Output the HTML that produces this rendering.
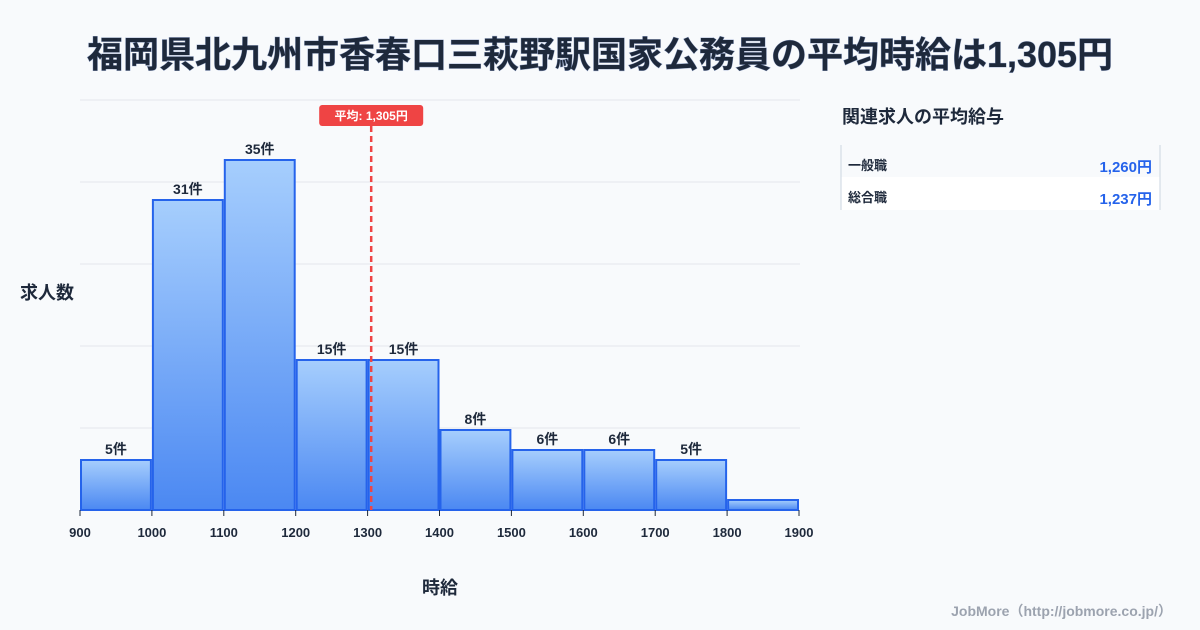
<!DOCTYPE html>
<html><head><meta charset="utf-8"><style>
body{margin:0;background:#f8fafc;font-family:"Liberation Sans","Noto Sans CJK JP",sans-serif;}
#wrap{position:relative;width:1200px;height:630px;overflow:hidden;background:#f8fafc;}
</style></head><body>
<div id="wrap">
<svg id="svg" width="1200" height="630" xmlns="http://www.w3.org/2000/svg">
<defs><linearGradient id="g" x1="0" y1="0" x2="0" y2="1"><stop offset="0" stop-color="#a6cefd"/><stop offset="1" stop-color="#4b88f2"/></linearGradient></defs>
<text x="600" y="67" text-anchor="middle" font-size="36" font-weight="bold" fill="#1e293b" stroke="#93a4c8" stroke-width="0.8" style="paint-order:stroke">福岡県北九州市香春口三萩野駅国家公務員の平均時給は1,305円</text>
<text x="20" y="299" font-size="18" font-weight="bold" fill="#1e293b">求人数</text>
<text x="440" y="594" text-anchor="middle" font-size="18" font-weight="bold" fill="#1e293b">時給</text>
<g id="grid"></g><g id="bars"></g><g id="axis"></g>
<text x="842" y="123" font-size="18" font-weight="bold" fill="#1e293b">関連求人の平均給与</text>
<rect x="841" y="145" width="319" height="32" fill="#f8fafc"/>
<rect x="841" y="177" width="319" height="33" fill="#ffffff"/>
<line x1="841" y1="145" x2="841" y2="210" stroke="#cbd5e1"/>
<line x1="1160" y1="145" x2="1160" y2="210" stroke="#cbd5e1"/>
<text x="848" y="170" font-size="13" font-weight="bold" fill="#1e293b">一般職</text>
<text x="1152" y="172" text-anchor="end" font-size="15" font-weight="bold" fill="#2563eb">1,260円</text>
<text x="848" y="202" font-size="13" font-weight="bold" fill="#1e293b">総合職</text>
<text x="1152" y="204" text-anchor="end" font-size="15" font-weight="bold" fill="#2563eb">1,237円</text>
<text x="1172" y="616" text-anchor="end" font-size="14" font-weight="bold" fill="#9ca3af">JobMore（http://jobmore.co.jp/）</text>
</svg></div>
<script>
const binStarts=[900,1000,1100,1200,1300,1400,1500,1600,1700,1800];
const counts=[5,31,35,15,15,8,6,6,5,1];
const xTicks=[900,1000,1100,1200,1300,1400,1500,1600,1700,1800,1900];
const meanValue=1305;
const meanLabel="平均: 1,305円";
const NS="http://www.w3.org/2000/svg";
const x=v=>80+(v-900)*0.719;
const y=c=>510-c*10;
function mk(t,a,p){const e=document.createElementNS(NS,t);for(const k in a)e.setAttribute(k,a[k]);p.appendChild(e);return e;}
const grid=document.getElementById('grid'),bars=document.getElementById('bars'),axis=document.getElementById('axis');
for(let i=0;i<5;i++){const gy=100+i*82;const l=mk('line',{x1:80,x2:800,y1:gy,y2:gy,stroke:'#e5e7eb'},grid);

}
counts.forEach((c,i)=>{const x0=x(binStarts[i])+1,x1=x(binStarts[i]+100)-1;
const r=mk('rect',{x:x0,y:y(c),width:x1-x0,height:510-y(c),fill:'url(#g)',stroke:'#2563eb','stroke-width':2},bars);


if(c>1){const t=mk('text',{x:(x0+x1)/2,y:y(c)-6,'text-anchor':'middle','font-size':14,'font-weight':'bold',fill:'#1e293b'},bars);t.textContent=c+'件';

}
});
xTicks.forEach(v=>{const l=mk('line',{x1:x(v),x2:x(v),y1:510,y2:516,stroke:'#1e293b'},axis);


const t=mk('text',{x:x(v),y:537,'text-anchor':'middle','font-size':13,'font-weight':'bold',fill:'#1e293b'},axis);t.textContent=v;

});
const ml=mk('line',{x1:x(meanValue),x2:x(meanValue),y1:126,y2:510,stroke:'#ef4444','stroke-width':2.5,'stroke-dasharray':'6,4'},axis);


const mb=mk('rect',{x:x(meanValue)-52,y:105,width:104,height:21,rx:3,fill:'#ef4444'},axis);


const mt=mk('text',{x:x(meanValue),y:120,'text-anchor':'middle','font-size':12,'font-weight':'bold',fill:'#fff'},axis);mt.textContent=meanLabel;


</script>
</body></html>
